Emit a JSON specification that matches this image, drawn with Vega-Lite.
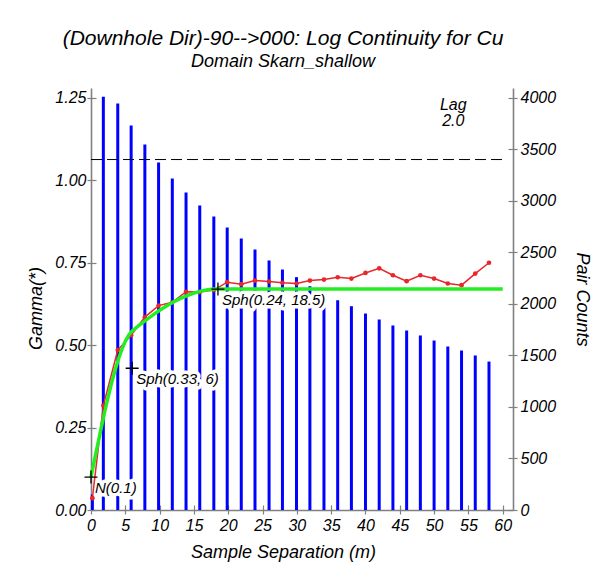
{
  "$schema": "https://vega.github.io/schema/vega-lite/v6.json",
  "width": 422,
  "height": 422,
  "padding": {"left": 27, "top": 28, "right": 5, "bottom": 5},
  "background": "white",
  "config": {
    "font": "Liberation Sans",
    "view": {"stroke": null},
    "axis": {
      "labelFont": "Liberation Sans",
      "labelFontSize": 16,
      "labelFontStyle": "italic",
      "labelColor": "#000000",
      "titleFont": "Liberation Sans",
      "titleFontSize": 18,
      "titleFontStyle": "italic",
      "titleFontWeight": "normal",
      "titleColor": "#000000",
      "domainColor": "#808080",
      "domainWidth": 1.6,
      "tickColor": "#808080",
      "tickWidth": 1.2,
      "tickSize": 4,
      "grid": false,
      "labelFlush": false,
      "labelOverlap": false
    }
  },
  "title": {
    "text": "(Downhole Dir)-90-->000: Log Continuity for Cu",
    "subtitle": "Domain Skarn_shallow",
    "font": "Liberation Sans",
    "fontSize": 21,
    "fontStyle": "italic",
    "fontWeight": "normal",
    "color": "#000000",
    "subtitleFont": "Liberation Sans",
    "subtitleFontSize": 18,
    "subtitleFontStyle": "italic",
    "subtitleColor": "#000000",
    "subtitlePadding": 4,
    "anchor": "middle",
    "frame": "group",
    "dx": -19,
    "offset": 17
  },
  "datasets": {
    "pairs": [
      {"h": 0.2, "n": 150},
      {"h": 1.8, "n": 4010},
      {"h": 3.9, "n": 3945},
      {"h": 5.85, "n": 3732},
      {"h": 7.85, "n": 3547},
      {"h": 9.85, "n": 3373},
      {"h": 11.85, "n": 3217},
      {"h": 13.85, "n": 3082},
      {"h": 15.85, "n": 2955},
      {"h": 17.9, "n": 2849},
      {"h": 19.85, "n": 2742},
      {"h": 21.9, "n": 2635},
      {"h": 23.9, "n": 2528},
      {"h": 25.95, "n": 2422},
      {"h": 27.9, "n": 2334},
      {"h": 29.95, "n": 2260},
      {"h": 31.9, "n": 2172},
      {"h": 33.95, "n": 2100},
      {"h": 35.95, "n": 2036},
      {"h": 37.95, "n": 1978},
      {"h": 40, "n": 1907},
      {"h": 42, "n": 1849},
      {"h": 44, "n": 1791},
      {"h": 46, "n": 1742},
      {"h": 48, "n": 1694},
      {"h": 50, "n": 1645},
      {"h": 52, "n": 1587},
      {"h": 54, "n": 1548},
      {"h": 56, "n": 1500},
      {"h": 58, "n": 1441}
    ],
    "experimental": [
      {"h": 0.2, "g": 0.036},
      {"h": 1.8, "g": 0.317},
      {"h": 3.9, "g": 0.485},
      {"h": 5.85, "g": 0.53},
      {"h": 7.85, "g": 0.585},
      {"h": 9.85, "g": 0.62},
      {"h": 11.85, "g": 0.63},
      {"h": 13.85, "g": 0.662},
      {"h": 15.85, "g": 0.661},
      {"h": 17.9, "g": 0.667},
      {"h": 19.85, "g": 0.691},
      {"h": 21.9, "g": 0.685},
      {"h": 23.9, "g": 0.696},
      {"h": 25.95, "g": 0.693},
      {"h": 27.9, "g": 0.689},
      {"h": 29.95, "g": 0.687},
      {"h": 31.9, "g": 0.696},
      {"h": 33.95, "g": 0.699},
      {"h": 35.95, "g": 0.706},
      {"h": 37.95, "g": 0.702},
      {"h": 40, "g": 0.719},
      {"h": 42, "g": 0.733},
      {"h": 44, "g": 0.712},
      {"h": 46, "g": 0.694},
      {"h": 48, "g": 0.712},
      {"h": 50, "g": 0.702},
      {"h": 52, "g": 0.687},
      {"h": 54, "g": 0.682},
      {"h": 56, "g": 0.717},
      {"h": 58, "g": 0.75}
    ],
    "model": [
      {"h": 0, "g": 0.1},
      {"h": 0.5, "g": 0.151},
      {"h": 1, "g": 0.201},
      {"h": 1.5, "g": 0.25},
      {"h": 2, "g": 0.298},
      {"h": 2.5, "g": 0.343},
      {"h": 3, "g": 0.385},
      {"h": 3.5, "g": 0.423},
      {"h": 4, "g": 0.458},
      {"h": 4.5, "g": 0.487},
      {"h": 5, "g": 0.512},
      {"h": 5.5, "g": 0.531},
      {"h": 6, "g": 0.543},
      {"h": 7, "g": 0.56},
      {"h": 8, "g": 0.576},
      {"h": 9, "g": 0.591},
      {"h": 10, "g": 0.606},
      {"h": 11, "g": 0.619},
      {"h": 12, "g": 0.631},
      {"h": 13, "g": 0.641},
      {"h": 14, "g": 0.65},
      {"h": 15, "g": 0.658},
      {"h": 16, "g": 0.664},
      {"h": 17, "g": 0.668},
      {"h": 18, "g": 0.67},
      {"h": 18.5, "g": 0.67},
      {"h": 60, "g": 0.67}
    ],
    "sill": [
      {"h": 0, "g": 1.063},
      {"h": 60, "g": 1.063}
    ],
    "structures": [
      {"h": 0, "g": 0.1, "label": "N(0.1)"},
      {"h": 6, "g": 0.43, "label": "Sph(0.33, 6)"},
      {"h": 18.5, "g": 0.67, "label": "Sph(0.24, 18.5)"}
    ],
    "lagnote": [
      {"h": 52.8, "g": 1.228, "label": "Lag"},
      {"h": 52.8, "g": 1.179, "label": "2.0"}
    ]
  },
  "layer": [
    {
      "data": {"name": "pairs"},
      "mark": {"type": "bar", "orient": "vertical", "size": 3, "color": "#0000ff"},
      "encoding": {
        "x": {
          "field": "h",
          "type": "quantitative",
          "scale": {"domain": [0, 61.5], "nice": false, "zero": false, "padding": 0},
          "axis": {
            "orient": "bottom",
            "values": [0, 5, 10, 15, 20, 25, 30, 35, 40, 45, 50, 55, 60],
            "format": "d",
            "title": "Sample Separation (m)",
            "labelFontStyle": "italic",
            "labelPadding": 3,
            "titlePadding": 10,
            "titleX": 192
          }
        },
        "y": {
          "field": "n",
          "type": "quantitative",
          "scale": {"domain": [0, 4096], "nice": false},
          "axis": {
            "orient": "right",
            "values": [0, 500, 1000, 1500, 2000, 2500, 3000, 3500, 4000],
            "format": "d",
            "title": "Pair Counts",
            "labelFontStyle": "italic",
            "labelPadding": 3,
            "titlePadding": 17
          }
        }
      }
    },
    {
      "data": {"name": "pairs"},
      "mark": {"type": "bar", "orient": "vertical", "size": 3, "opacity": 0},
      "encoding": {
        "x": {
          "field": "h",
          "type": "quantitative",
          "axis": {
            "orient": "bottom",
            "values": [0, 5, 10, 15, 20, 25, 30, 35, 40, 45, 50, 55, 60],
            "tickSize": -5,
            "labels": false,
            "domain": false,
            "title": null
          }
        },
        "y": {
          "field": "n",
          "type": "quantitative",
          "scale": {"domain": [0, 4096], "nice": false},
          "axis": {
            "orient": "right",
            "values": [0, 500, 1000, 1500, 2000, 2500, 3000, 3500, 4000],
            "tickSize": -5,
            "labels": false,
            "domain": false,
            "title": null
          }
        }
      }
    },
    {
      "encoding": {
        "x": {"field": "h", "type": "quantitative", "axis": null},
        "y": {
          "field": "g",
          "type": "quantitative",
          "scale": {"domain": [0, 1.28], "nice": false},
          "axis": {
            "orient": "left",
            "values": [0, 0.25, 0.5, 0.75, 1, 1.25],
            "format": ".2f",
            "title": "Gamma(*)",
            "labelFontStyle": "italic",
            "labelPadding": 1,
            "titlePadding": 9,
            "titleY": 220
          }
        }
      },
      "layer": [
        {
          "data": {"name": "sill"},
          "mark": {"type": "line", "color": "#000000", "strokeWidth": 1, "strokeDash": [11, 5]}
        },
        {
          "data": {"name": "structures"},
          "mark": {"type": "text", "align": "left", "baseline": "top", "dx": 4, "dy": 4, "fontSize": 15, "fontStyle": "italic", "stroke": "#ffffff", "strokeWidth": 7, "strokeJoin": "round", "fill": "#ffffff"},
          "encoding": {"text": {"field": "label"}}
        },
        {
          "data": {"name": "structures"},
          "mark": {"type": "text", "align": "left", "baseline": "top", "dx": 4, "dy": 4, "fontSize": 15, "fontStyle": "italic", "color": "#000000"},
          "encoding": {"text": {"field": "label"}}
        },
        {
          "data": {"name": "experimental"},
          "mark": {"type": "line", "color": "#e8262b", "strokeWidth": 1.5, "point": {"filled": true, "color": "#e8262b", "size": 22}}
        },
        {
          "data": {"name": "model"},
          "mark": {"type": "line", "color": "#22ee22", "strokeWidth": 3.5}
        },
        {
          "data": {"name": "structures"},
          "mark": {"type": "point", "shape": "M-1,0L1,0M0,-1L0,1", "size": 169, "filled": false, "stroke": "#000000", "strokeWidth": 1.3, "opacity": 1}
        },
        {
          "data": {"name": "lagnote"},
          "mark": {"type": "text", "align": "center", "baseline": "middle", "fontSize": 16, "fontStyle": "italic", "color": "#000000"},
          "encoding": {"text": {"field": "label"}}
        }
      ]
    },
    {
      "data": {"name": "sill"},
      "mark": {"type": "point", "opacity": 0},
      "encoding": {
        "x": {"field": "h", "type": "quantitative", "axis": null},
        "y": {
          "field": "g",
          "type": "quantitative",
          "scale": {"domain": [0, 1.28], "nice": false},
          "axis": {
            "orient": "left",
            "values": [0, 0.25, 0.5, 0.75, 1, 1.25],
            "tickSize": -5,
            "labels": false,
            "domain": false,
            "title": null
          }
        }
      }
    }
  ],
  "resolve": {"scale": {"y": "independent"}, "axis": {"x": "independent", "y": "independent"}}
}
